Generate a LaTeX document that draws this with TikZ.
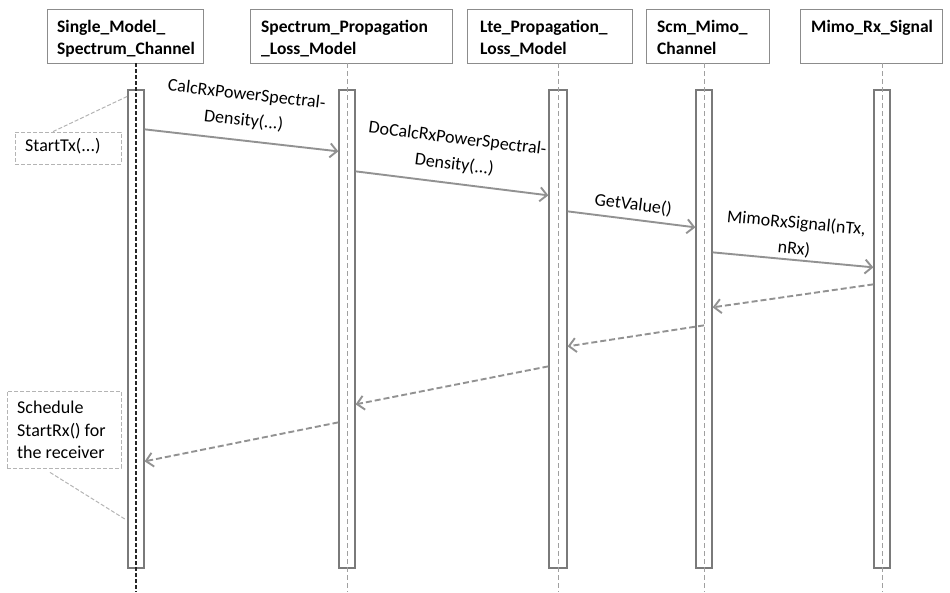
\documentclass[tikz,border=0pt]{standalone}
\usepackage{fontspec}
\setmainfont{Carlito}
\usetikzlibrary{arrows.meta}
\definecolor{boxgray}{HTML}{8C8C8C}
\definecolor{arrgray}{HTML}{929292}
\definecolor{notegray}{HTML}{B4B4B4}
\definecolor{lifegray}{HTML}{A0A0A0}
\definecolor{bargray}{HTML}{7A7A7A}
\tikzset{
  hdrbox/.style={draw=boxgray, line width=0.9pt, rectangle, inner sep=0pt},
  hdrtext/.style={anchor=north west, align=left, inner sep=0pt, font=\fontsize{17.5}{22}\selectfont\bfseries},
  actbar/.style={draw=bargray, line width=1.3pt, fill=white, rectangle, minimum width=16pt, minimum height=478pt, inner sep=0pt},
  life/.style={dashed, dash pattern=on 5pt off 3pt, lifegray, line width=0.7pt},
  lifedark/.style={dash pattern=on 4pt off 2pt, black!85, line width=1.5pt},
  msg/.style={arrgray, line width=1.9pt, -{Straight Barb[length=7pt,width=14pt,line width=1.9pt]}},
  ret/.style={msg, dash pattern=on 6pt off 3pt},
  msglabel/.style={black, sloped, align=center, inner sep=1pt, font=\fontsize{18}{26}\selectfont},
  notebox/.style={draw=notegray, dashed, dash pattern=on 4pt off 2pt, line width=0.8pt, rectangle, inner sep=0pt},
  notetext/.style={anchor=north west, align=left, inner sep=0pt, font=\fontsize{18}{22.5}\selectfont},
  noteline/.style={notegray, dash pattern=on 4pt off 2pt, line width=1pt}
}
\begin{document}
\begin{tikzpicture}[x=1pt,y=-1pt]
\useasboundingbox (0,0) rectangle (950,592);
% header boxes
\node[hdrbox, minimum width=156pt, minimum height=54pt] (h1) at (125,36) {};
\node[hdrbox, minimum width=202pt, minimum height=54pt] (h2) at (351,36) {};
\node[hdrbox, minimum width=165pt, minimum height=54pt] (h3) at (549.5,36) {};
\node[hdrbox, minimum width=123pt, minimum height=54pt] (h4) at (707.5,36) {};
\node[hdrbox, minimum width=142pt, minimum height=54pt] (h5) at (871,36) {};
\node[hdrtext] (t1) at (57,20) {Single\_Model\_\\Spectrum\_Channel};
\node[hdrtext] (t2) at (261,20) {Spectrum\_Propagation\\\_Loss\_Model};
\node[hdrtext] (t3) at (480,20) {Lte\_Propagation\_\\Loss\_Model};
\node[hdrtext] (t4) at (657,20) {Scm\_Mimo\_\\Channel};
\node[hdrtext] (t5) at (811,20) {Mimo\_Rx\_Signal};
% activation bars
\node[actbar] (b1) at (136,329) {};
\node[actbar] (b2) at (347,329) {};
\node[actbar, minimum width=18pt] (b3) at (558,329) {};
\node[actbar] (b4) at (704,329) {};
\node[actbar] (b5) at (882,329) {};
% lifelines
\coordinate (e1) at (136,592);
\coordinate (e2) at (347,592);
\coordinate (e3) at (558,592);
\coordinate (e4) at (704,592);
\coordinate (e5) at (882,592);
\draw[lifedark] (h1.south -| b1) -- (e1);
\draw[life] (h2.south -| b2) -- (e2);
\draw[life] (h3.south -| b3) -- (e3);
\draw[life] (h4.south -| b4) -- (e4);
\draw[life] (h5.south -| b5) -- (e5);
% messages
\draw[msg] ([yshift=-40pt]b1.north east) -- node[msglabel, above=10pt] {CalcRxPowerSpectral-\\Density(...)} ([yshift=-62pt]b2.north west);
\draw[msg] ([yshift=-82pt]b2.north east) -- node[msglabel, above=9pt] {DoCalcRxPowerSpectral-\\Density(...)} ([yshift=-106pt]b3.north west);
\draw[msg] ([yshift=-122pt]b3.north east) -- node[msglabel, above=5pt] {GetValue()} ([yshift=-138pt]b4.north west);
\draw[msg] ([yshift=-163pt]b4.north east) -- node[msglabel, above=1pt] {MimoRxSignal(nTx,\\nRx)} ([yshift=-178pt]b5.north west);
% returns
\draw[ret] ([yshift=-195pt]b5.north west) -- ([yshift=-218pt]b4.north east);
\draw[ret] ([yshift=-236pt]b4.north) -- ([yshift=-257pt]b3.north east);
\draw[ret] ([yshift=-277pt]b3.north west) -- ([yshift=-315pt]b2.north east);
\draw[ret] ([yshift=-333pt]b2.north west) -- ([yshift=-372pt]b1.north east);
% notes
\node[notebox, minimum width=106pt, minimum height=32pt] (n1) at (68,148) {};
\node[notetext] (nt1) at (25,138) {StartTx(...)};
\draw[noteline] ([xshift=-15pt]n1.north) -- ([yshift=-7pt]b1.north west);
\node[notebox, minimum width=114pt, minimum height=77pt] (n2) at (64,429.5) {};
\node[notetext] (nt2) at (17,401) {Schedule\\StartRx() for\\the receiver};
\draw[noteline] ([xshift=-14pt,yshift=-4pt]n2.south) -- ([xshift=-2pt,yshift=-430pt]b1.north west);
\end{tikzpicture}
\end{document}
